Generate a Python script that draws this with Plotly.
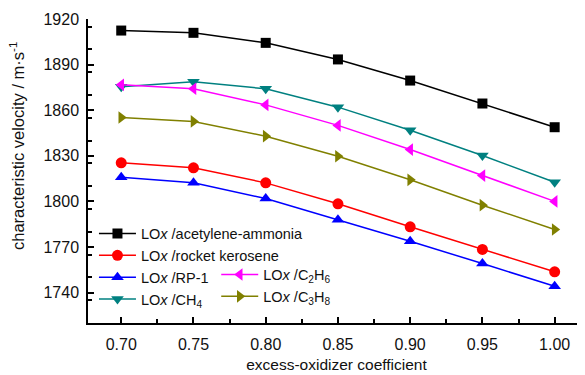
import plotly.graph_objects as go

x_vals = [0.70, 0.75, 0.80, 0.85, 0.90, 0.95, 1.00]

acetylene_ammonia = [1912.4, 1910.9, 1904.3, 1893.4, 1879.5, 1864.4, 1848.8]
rocket_kerosene = [1825.4, 1822.1, 1812.2, 1798.4, 1783.3, 1768.4, 1753.7]
rp1 = [1815.9, 1812.2, 1801.9, 1788.0, 1773.8, 1759.1, 1744.2]
ch4 = [1875.4, 1878.7, 1874.1, 1862.0, 1846.8, 1830.2, 1812.6]
c2h6 = [1876.7, 1874.1, 1863.5, 1850.0, 1834.1, 1817.0, 1800.0]
c3h8 = [1855.2, 1852.6, 1842.9, 1829.7, 1814.2, 1797.5, 1781.5]

names = [
    "LO<i>x</i> /acetylene-ammonia",
    "LO<i>x</i> /rocket kerosene",
    "LO<i>x</i> /RP-1",
    "LO<i>x</i> /CH<sub>4</sub>",
    "LO<i>x</i> /C<sub>2</sub>H<sub>6</sub>",
    "LO<i>x</i> /C<sub>3</sub>H<sub>8</sub>",
]
series = [acetylene_ammonia, rocket_kerosene, rp1, ch4, c2h6, c3h8]
colors = ["#000000", "#FF0000", "#0000FF", "#008080", "#FF00FF", "#808000"]
symbols = ["square", "circle", "triangle-up", "triangle-down", "triangle-left", "triangle-right"]
sizes = [10, 11, 11, 11, 11, 11]
legends = ["legend", "legend", "legend", "legend", "legend2", "legend2"]

y_ticks = [1740, 1770, 1800, 1830, 1860, 1890, 1920]
x_ticks = [0.70, 0.75, 0.80, 0.85, 0.90, 0.95, 1.00]

FONT = "Liberation Sans, Arial, sans-serif"

fig = go.Figure()
for nm, ys, c, s, sz, lg in zip(names, series, colors, symbols, sizes, legends):
    fig.add_trace(go.Scatter(
        x=x_vals, y=ys, name=nm, mode="lines+markers",
        line=dict(color=c, width=1.5),
        marker=dict(symbol=s, size=sz, color=c),
        legend=lg,
    ))

# page body has an 8px default margin, so the figure is 8px smaller
fig.update_layout(
    width=577, height=367,
    margin=dict(l=80, r=0, t=11, b=52),
    paper_bgcolor="white", plot_bgcolor="white",
    font=dict(family=FONT, size=15, color="#111111"),
    showlegend=True,
    legend=dict(x=0.012, y=0.347, xanchor="left", yanchor="top",
                bgcolor="rgba(0,0,0,0)", font=dict(size=14.5), tracegroupgap=0,
                itemwidth=37),
    legend2=dict(x=0.258, y=0.212, xanchor="left", yanchor="top",
                 bgcolor="rgba(0,0,0,0)", font=dict(size=14.5), tracegroupgap=0,
                 itemwidth=37),
    annotations=[dict(
        text="characteristic velocity / m·s<sup>-1</sup>",
        xref="paper", yref="paper", x=-0.143, y=0.582,
        textangle=-90, showarrow=False, font=dict(size=16.5),
        xanchor="center", yanchor="middle",
    )],
)

fig.update_xaxes(
    range=[0.677, 1.021], tickvals=x_ticks, ticktext=[f"{v:.2f}" for v in x_ticks],
    showline=True, linecolor="black", linewidth=1.5, showgrid=False, zeroline=False,
    ticks="inside", ticklen=6, tickwidth=1.5, tickcolor="black",
    minor=dict(ticks="inside", ticklen=4, tickwidth=1.5, tickcolor="black", dtick=0.025, tick0=0.7),
    ticklabelstandoff=6, tickfont=dict(size=16),
    title=dict(text="excess-oxidizer coefficient", standoff=7, font=dict(size=15.5)),
)
fig.update_yaxes(
    range=[1720, 1920], tickvals=y_ticks,
    showline=True, linecolor="black", linewidth=1.5, showgrid=False, zeroline=False,
    ticks="inside", ticklen=6, tickwidth=1.5, tickcolor="black",
    minor=dict(ticks="inside", ticklen=4, tickwidth=1.5, tickcolor="black", dtick=15, tick0=1720),
    ticklabelstandoff=4, tickfont=dict(size=16),
)

fig.write_html("out.html")
